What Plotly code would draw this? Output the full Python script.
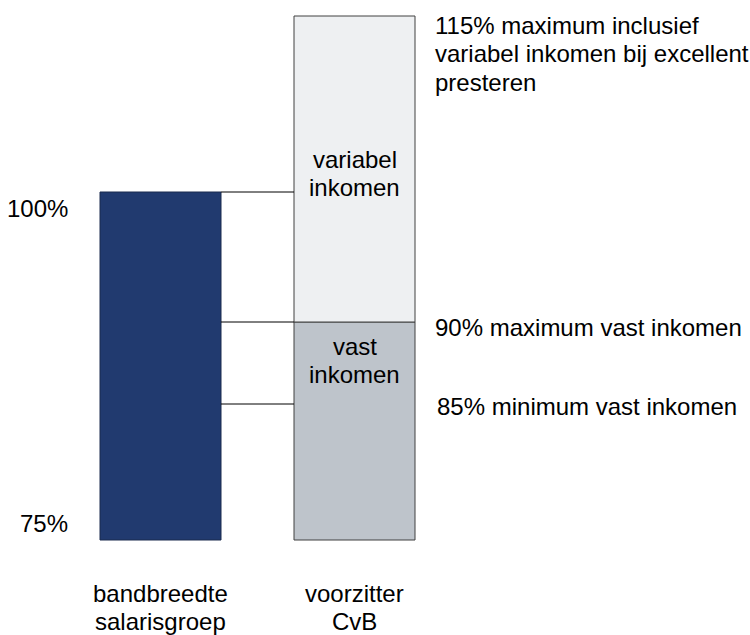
import plotly.graph_objects as go

# ---- data ----
categories = ["bandbreedte<br>salarisgroep", "voorzitter<br>CvB"]
level_pct = [75, 85, 90, 100, 115]          # salary levels (% of reference)
level_pos = [0, 136, 218, 348, 524]         # schematic (non-linear) height of each level
tick_labels = ["75%", "100%"]
seg_names = ["vast<br>inkomen", "variabel<br>inkomen"]
right_labels = [
    "115% maximum inclusief<br>variabel inkomen bij excellent<br>presteren",
    "90% maximum vast inkomen",
    "85% minimum vast inkomen",
]

pos = dict(zip(level_pct, level_pos))
FONT = "Liberation Sans, Arial, sans-serif"
FS = 24
LS = 28.5   # line spacing in px
x_bar = [160.5, 354.5]
bw = 121

fig = go.Figure()
# bandbreedte bar: 75% -> 100%
fig.add_trace(go.Bar(x=[x_bar[0]], y=[pos[100] - pos[75]], base=[pos[75]], width=bw,
                     marker=dict(color="#213A6F", line=dict(color="#1B2B4F", width=1)),
                     hoverinfo="skip"))
# voorzitter: fixed 75 -> 90, variable 90 -> 115
fig.add_trace(go.Bar(x=[x_bar[1]], y=[pos[90] - pos[75]], base=[pos[75]], width=bw,
                     marker=dict(color="#BEC4CB", line=dict(color="#404040", width=1)),
                     hoverinfo="skip"))
fig.add_trace(go.Bar(x=[x_bar[1]], y=[pos[115] - pos[90]], base=[pos[90]], width=bw,
                     marker=dict(color="#EEF0F2", line=dict(color="#404040", width=1)),
                     hoverinfo="skip"))

# connector lines
x0 = x_bar[0] + bw / 2
x1 = x_bar[1] - bw / 2
for lv in [100, 90, 85]:
    fig.add_shape(type="line", x0=x0, x1=x1, y0=pos[lv], y1=pos[lv],
                  line=dict(color="#000000", width=1), layer="above")

ann = []


def label(x, y_center_first, text, xanchor):
    """place each line of text as its own annotation, first line centred at y"""
    for i, line in enumerate(text.split("<br>")):
        ann.append(dict(x=x, y=y_center_first - i * LS, text=line, xanchor=xanchor,
                        yanchor="middle", showarrow=False, xref="x", yref="y",
                        font=dict(family=FONT, size=FS, color="#000000")))


# y labels
label(70, pos[75] + 17, tick_labels[0], "right")
label(70, pos[100] - 16, tick_labels[1], "right")
# inside labels
label(x_bar[1], pos[90] - 24, seg_names[0], "center")
label(x_bar[1], pos[100] + 33, seg_names[1], "center")
# right labels
label(433, pos[115] - 9, right_labels[0], "left")
label(433, pos[90] - 5, right_labels[1], "left")
label(435, pos[85] - 2, right_labels[2], "left")
# category labels
for xc, c in zip(x_bar, categories):
    label(xc, -53, c, "center")

fig.update_layout(
    width=750, height=635, margin=dict(l=0, r=0, t=0, b=0),
    paper_bgcolor="white", plot_bgcolor="white", showlegend=False, barmode="overlay",
    xaxis=dict(range=[0, 750], visible=False, fixedrange=True),
    yaxis=dict(range=[-95, 540], visible=False, fixedrange=True),
    annotations=ann, font=dict(family=FONT, size=FS),
)
fig.write_html("out.html", config={"displayModeBar": False},
               post_script="document.body.style.margin='0';document.body.style.overflow='hidden';")
